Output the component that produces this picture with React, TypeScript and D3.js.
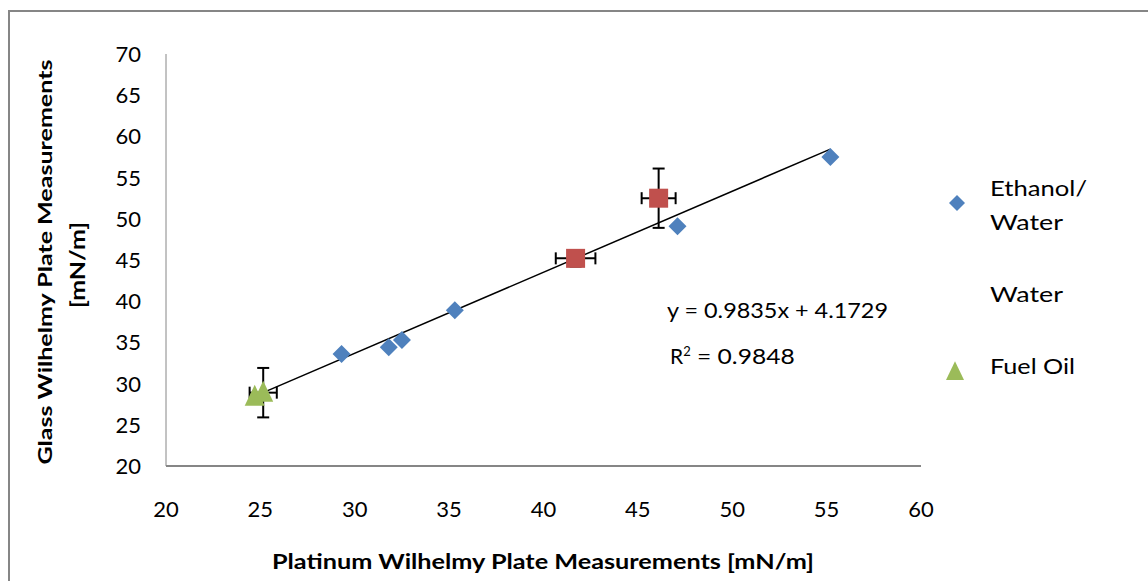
import React from "react";
import * as d3 from "d3";

const xTicks = [20, 25, 30, 35, 40, 45, 50, 55, 60];
const yTicks = [20, 25, 30, 35, 40, 45, 50, 55, 60, 65, 70];

const ethanolX = [29.3, 31.8, 32.5, 35.3, 47.1, 55.2];
const ethanolY = [33.6, 34.4, 35.3, 38.9, 49.1, 57.5];

const waterX = [41.7, 46.1];
const waterY = [45.2, 52.5];
const waterXErr = [1.05, 0.9];
const waterYErr = [1.0, 3.6];

const fuelX = [24.7, 25.15];
const fuelY = [28.4, 28.9];
const fuelXErr = [0, 0.72];
const fuelYErr = [0, 3.0];

const slope = 0.9835;
const intercept = 4.1729;
const trendRange = [24.6, 55.2];

const legendLabels = [["Ethanol/", "Water"], ["Water"], ["Fuel Oil"]];

const FONT = "Lato, 'Open Sans', sans-serif";

export default function App() {
  const x = d3.scaleLinear().domain([20, 60]).range([166, 921]);
  const y = d3.scaleLinear().domain([20, 70]).range([466, 54]);
  const line = d3.line<number>().x((d) => x(d)).y((d) => y(slope * d + intercept));

  const errBar = (cx: number, cy: number, ex: number, ey: number, key: string) => {
    const cap = 6;
    const els: React.ReactNode[] = [];
    if (ey > 0) {
      els.push(
        <g key={key + "v"} stroke="#000" strokeWidth={2}>
          <line x1={x(cx)} x2={x(cx)} y1={y(cy - ey)} y2={y(cy + ey)} />
          <line x1={x(cx) - cap} x2={x(cx) + cap} y1={y(cy - ey)} y2={y(cy - ey)} />
          <line x1={x(cx) - cap} x2={x(cx) + cap} y1={y(cy + ey)} y2={y(cy + ey)} />
        </g>
      );
    }
    if (ex > 0) {
      els.push(
        <g key={key + "h"} stroke="#000" strokeWidth={2}>
          <line x1={x(cx - ex)} x2={x(cx + ex)} y1={y(cy)} y2={y(cy)} />
          <line x1={x(cx - ex)} x2={x(cx - ex)} y1={y(cy) - cap} y2={y(cy) + cap} />
          <line x1={x(cx + ex)} x2={x(cx + ex)} y1={y(cy) - cap} y2={y(cy) + cap} />
        </g>
      );
    }
    return els;
  };

  const diamond = (cx: number, cy: number, r: number, key: string) => (
    <path
      key={key}
      d={`M${cx},${cy - r}L${cx + r},${cy}L${cx},${cy + r}L${cx - r},${cy}Z`}
      fill="#4F81BD"
    />
  );
  const triangle = (cx: number, cy: number, s: number, key: string) => (
    <path
      key={key}
      d={`M${cx},${cy - s * 0.6}L${cx + s / 2},${cy + s * 0.45}L${cx - s / 2},${cy + s * 0.45}Z`}
      fill="#9BBB59"
    />
  );

  return (
    <>
      <style>{"body{margin:0}"}</style>
      <svg width={1148} height={581} style={{ display: "block", background: "#fff" }}>
        <rect x={9} y={11} width={1300} height={800} fill="none" stroke="#868686" strokeWidth={2} />

        {/* axes */}
        <line x1={166} x2={166} y1={y(70)} y2={y(20)} stroke="#868686" strokeWidth={1} />
        <line x1={x(20)} x2={x(60)} y1={466} y2={466} stroke="#868686" strokeWidth={2} />

        {yTicks.map((t) => (
          <text key={"y" + t} x={141} y={y(t)} dy="0.36em" textAnchor="end" fontFamily={FONT} fontSize={22} fill="#000">
            {t}
          </text>
        ))}
        {xTicks.map((t) => (
          <text key={"x" + t} x={x(t)} y={517} textAnchor="middle" fontFamily={FONT} fontSize={22} fill="#000">
            {t}
          </text>
        ))}

        {/* axis titles */}
        <text x={543} y={569} textAnchor="middle" fontFamily={FONT} fontWeight="bold" fontSize={20} textLength={542} lengthAdjust="spacingAndGlyphs">
          Platinum Wilhelmy Plate Measurements [mN/m]
        </text>
        <g transform="translate(52,262) rotate(-90)">
          <text x={0} y={0} textAnchor="middle" fontFamily={FONT} fontWeight="bold" fontSize={19} textLength={405} lengthAdjust="spacingAndGlyphs">
            Glass Wilhelmy Plate Measurements
          </text>
          <text x={-3} y={33} textAnchor="middle" fontFamily={FONT} fontWeight="bold" fontSize={20} textLength={86} lengthAdjust="spacingAndGlyphs">
            [mN/m]
          </text>
        </g>

        {/* trendline */}
        <path d={line(trendRange) || ""} stroke="#000" strokeWidth={1.5} fill="none" />

        {/* error bars */}
        {waterX.map((v, i) => errBar(v, waterY[i], waterXErr[i], waterYErr[i], "w" + i))}
        {fuelX.map((v, i) => errBar(v, fuelY[i], fuelXErr[i], fuelYErr[i], "f" + i))}

        {/* markers */}
        {ethanolX.map((v, i) => diamond(x(v), y(ethanolY[i]), 9, "e" + i))}
        {waterX.map((v, i) => (
          <rect key={"ws" + i} x={x(v) - 9.5} y={y(waterY[i]) - 9.5} width={19} height={19} fill="#C0504D" />
        ))}
        {fuelX.map((v, i) => triangle(x(v), y(fuelY[i]), 20, "ft" + i))}

        {/* equation */}
        <text x={667} y={318} fontFamily={FONT} fontSize={21} textLength={221} lengthAdjust="spacingAndGlyphs">
          y = 0.9835x + 4.1729
        </text>
        <text x={670} y={364} fontFamily={FONT} fontSize={21}>
          R<tspan dy={-8} fontSize={13}>2</tspan>
          <tspan dy={8} textLength={104} lengthAdjust="spacingAndGlyphs"> = 0.9848</tspan>
        </text>

        {/* legend */}
        {diamond(957, 203, 8, "leg-e")}
        {triangle(955, 372, 18, "leg-f")}
        <text x={990} y={196} fontFamily={FONT} fontSize={22} textLength={97} lengthAdjust="spacingAndGlyphs">{legendLabels[0][0]}</text>
        <text x={990} y={230} fontFamily={FONT} fontSize={22} textLength={73} lengthAdjust="spacingAndGlyphs">{legendLabels[0][1]}</text>
        <text x={990} y={302} fontFamily={FONT} fontSize={22} textLength={73} lengthAdjust="spacingAndGlyphs">{legendLabels[1][0]}</text>
        <text x={990} y={374} fontFamily={FONT} fontSize={22} textLength={85} lengthAdjust="spacingAndGlyphs">{legendLabels[2][0]}</text>
      </svg>
    </>
  );
}
